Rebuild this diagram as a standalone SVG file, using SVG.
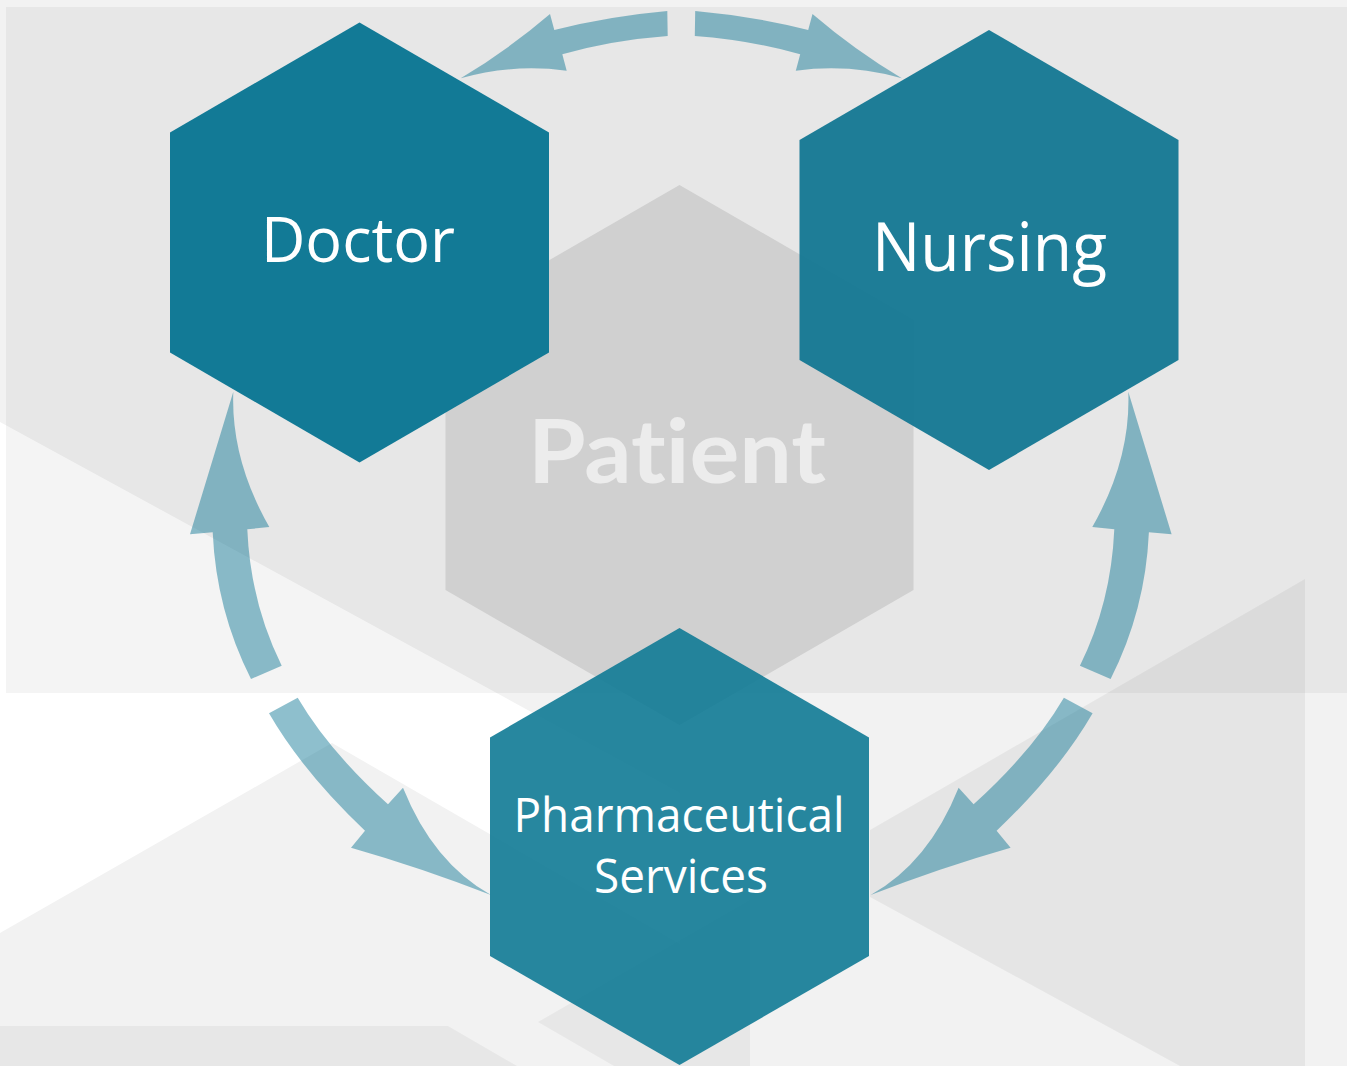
<svg xmlns="http://www.w3.org/2000/svg" width="1347" height="1066" viewBox="0 0 1347 1066">
<style>
.shade{fill:#000;fill-opacity:0.045}
.arrow{fill:#127a96;fill-opacity:0.48}
.lbl{font-family:"Open Sans","Noto Sans",sans-serif;fill:#ffffff;text-anchor:middle;font-variant-ligatures:none}
.big{font-family:"Lato","Open Sans",sans-serif;font-weight:700;fill:#ececec;text-anchor:middle;font-variant-ligatures:none;font-feature-settings:"liga" 0,"clig" 0}
</style>
<g id="background">
  <rect x="0" y="0" width="1347" height="1066" fill="#f2f2f2"/>
  <polygon points="0,422 680,793 680,944 332,743 0,933" fill="#ffffff"/>
  <rect class="shade" x="6" y="7" width="1341" height="686"/>
  <polygon class="shade" points="1305,579 1305,1066 1180,1066 870,897 870,830" style="fill-opacity:0.05"/>
  <polygon class="shade" points="538,1022 750,900 750,1066 614,1066"/>
  <polygon class="shade" points="0,1026 448,1026 517,1066 0,1066"/>
</g>
<g id="connectors">
  <path class="arrow" d="M667.3,11 Q609.3,16.1 554.3,30 L550,14 Q508,50 460.7,78.3 Q512.3,63.5 566.7,70.7 L562.3,54.3 Q611.6,40.2 667.7,36 Z"/>
  <path class="arrow" d="M695.2,11 Q753.2,16.1 808.2,30 L812.5,14 Q854.5,50 901.8,78.3 Q850.2,63.5 795.8,70.7 L800.2,54.3 Q750.9,40.2 694.8,36 Z"/>
  <path class="arrow" d="M233.3,391.7 L190,534.3 L212.7,532.3 Q216.2,610.4 251,679 L281.7,665.7 Q250.5,603 247.3,529.3 L269.3,527 Q230.7,459.4 233.3,391.7 Z"/>
  <path class="arrow" d="M297.7,697.7 Q329,751 388,804.3 L403,787.7 Q433,862.6 491,895 Q422,868 351,847.7 L365,830.7 Q303,772 269,713.3 Z"/>
  <path class="arrow" d="M1128.3,391.7 L1171.6,534.3 L1148.9,532.3 Q1145.4,610.4 1110.6,679 L1079.9,665.7 Q1111.1,603 1114.3,529.3 L1092.3,527 Q1130.9,459.4 1128.3,391.7 Z"/>
  <path class="arrow" d="M1063.9,697.7 Q1032.6,751 973.6,804.3 L958.6,787.7 Q928.6,862.6 870.6,895 Q939.6,868 1010.6,847.7 L996.6,830.7 Q1058.6,772 1092.6,713.3 Z"/>
</g>
<g id="patient">
  <polygon points="679.5,185 913.5,320 913.5,590 679.5,725 445.5,590 445.5,320" fill="#d0d0d0"/>
  <text class="big" x="677" y="483" font-size="88" textLength="298" lengthAdjust="spacingAndGlyphs">Patient</text>
</g>
<g id="doctor">
  <polygon points="359.5,22.5 549,132.5 549,352.5 359.5,462.5 170,352.5 170,132.5" fill="#127a96"/>
  <text class="lbl" x="358" y="262" font-size="63" textLength="194" lengthAdjust="spacingAndGlyphs">Doctor</text>
</g>
<g id="nursing">
  <polygon points="989,30 1178.5,140 1178.5,360 989,470 799.5,360 799.5,140" fill="#117692" fill-opacity="0.94"/>
  <text class="lbl" x="989.5" y="271" font-size="67" textLength="235" lengthAdjust="spacingAndGlyphs">Nursing</text>
</g>
<g id="pharmaceutical">
  <polygon points="679.5,628 869,737.5 869,956 679.5,1065 490,956 490,737.5" fill="#0f7a95" fill-opacity="0.9"/>
  <text class="lbl" x="679" y="832" font-size="47" textLength="331" lengthAdjust="spacingAndGlyphs">Pharmaceutical</text>
  <text class="lbl" x="681" y="893" font-size="47" textLength="174" lengthAdjust="spacingAndGlyphs">Services</text>
</g>
</svg>
